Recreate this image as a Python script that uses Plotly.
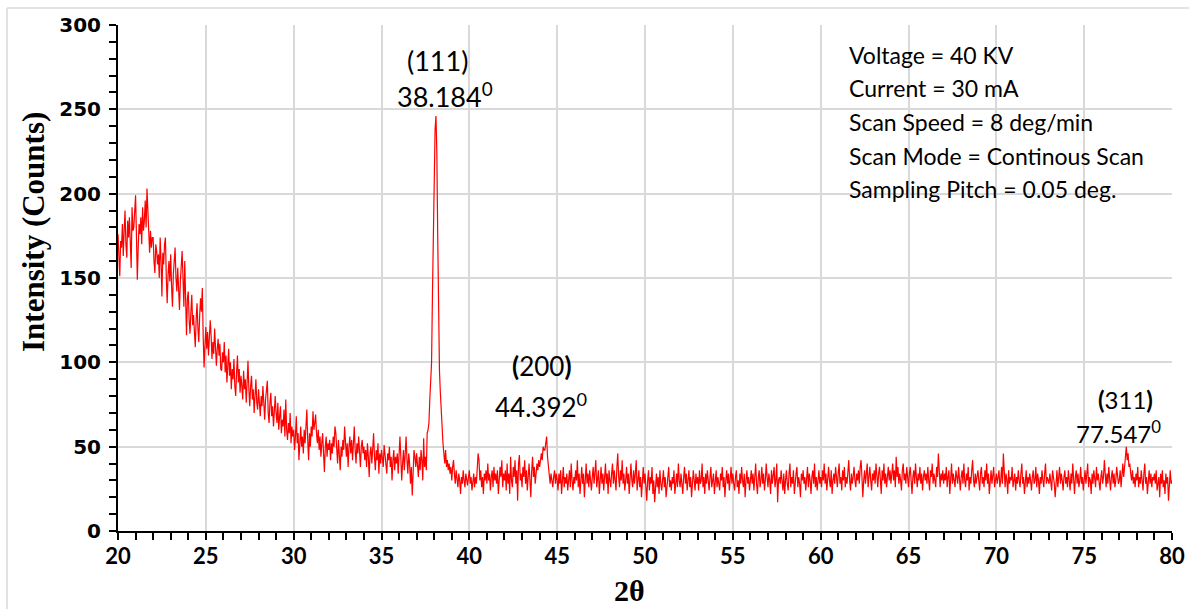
import plotly.graph_objects as go

# ---------------- data (2theta sampled every 0.05 deg) ----------------
seg_20 = [
    176,160,151,172,168,182,163,178,190,170,162,184,174,186,168,156,192,178,180,188,
    199,175,149,168,182,176,186,170,192,178,184,196,180,203,186,172,165,178,168,174,
    174,160,153,170,166,158,164,150,174,160,139,165,158,170,174,150,135,152,160,148,
    164,145,133,152,160,168,150,142,156,140,131,148,158,166,150,133,160,128,116,138,
    142,125,117,130,140,122,128,118,109,126,135,120,112,128,138,130,144,115,97,110,
    121,108,118,104,114,125,116,102,112,105,120,110,98,108,114,104,111,96,95,106,
    100,112,94,104,88,98,108,92,100,84,96,90,102,86,80,94,104,88,96,82,
    92,86,78,95,84,90,76,88,101,84,74,86,92,78,84,70,82,90,76,72,
    84,76,68,80,74,86,72,66,78,84,89,70,64,76,82,68,74,62,72,80,
    70,64,76,60,68,74,58,66,62,72,56,78,60,54,64,58,70,52,62,56,
]
seg_30 = [
    60,48,56,68,52,58,42,54,62,50,56,46,60,52,64,72,54,42,58,50,
    62,56,71,60,64,69,58,52,60,48,56,44,52,58,46,35,50,56,44,52,
    48,54,42,52,46,56,50,62,58,48,40,54,46,36,50,44,54,48,62,50,
    44,52,38,50,56,46,54,42,50,62,48,40,52,46,56,44,38,50,54,46,
    50,42,48,38,52,44,32,46,50,40,48,58,44,36,48,42,52,34,46,40,
    48,44,38,51,46,40,34,46,42,50,38,44,30,42,48,36,44,40,46,34,
    42,56,44,30,40,48,36,44,56,42,34,46,40,28,38,21,36,48,44,38,
    46,40,32,44,36,48,42,30,55,38,44,36,58,60,64,78,88,100,140,185,
    218,238,246,225,175,125,95,82,70,62,52,46,40,48,38,42,36,40,34,38,
    30,38,42,34,28,36,32,26,34,30,22,32,28,36,30,26,34,28,27,32,
]
seg_40 = [
    36,28,32,24,30,34,26,32,28,38,46,42,30,36,26,32,22,34,30,36,
    28,40,30,34,24,32,36,26,38,30,34,28,36,22,30,38,32,42,26,34,
    30,36,24,40,28,34,22,44,30,26,38,32,42,28,36,18,40,45,30,34,
    26,38,32,42,28,36,24,34,40,30,20,36,44,32,38,28,34,40,36,42,
    38,44,46,42,50,48,48,52,56,44,38,36,28,34,30,26,32,36,28,34,
    30,24,34,28,36,22,30,38,26,32,28,34,24,30,36,26,40,30,24,32,
    28,36,30,42,26,34,22,30,38,28,34,20,32,40,28,34,26,36,30,24,
    32,38,28,34,42,26,30,36,22,32,38,28,34,24,30,40,28,34,22,36,
    30,26,34,40,28,36,30,24,38,46,32,26,36,30,42,28,34,24,30,38,
    28,34,22,32,40,30,26,36,28,34,42,24,30,36,26,32,20,30,38,28,
]
seg_50 = [
    34,26,18,30,36,24,32,28,38,22,30,17,28,34,26,32,22,36,28,24,
    30,36,26,32,20,28,34,38,26,30,24,32,28,36,22,30,34,26,40,30,
    26,34,28,22,32,38,28,34,24,30,36,26,32,20,28,36,30,24,34,28,
    32,24,36,28,30,40,26,32,22,34,28,36,30,24,32,38,26,30,34,22,
    30,36,26,32,28,24,34,30,38,26,32,20,30,36,28,34,24,30,38,28,
    34,28,24,32,36,26,30,22,34,28,38,30,26,34,20,30,36,28,32,24,
    30,36,28,34,24,32,40,28,22,32,36,26,30,38,28,34,24,30,40,32,
    26,34,30,22,36,28,32,38,26,30,40,17,30,32,28,36,30,24,34,22,
    30,36,28,24,34,40,26,32,28,36,22,30,34,38,26,32,28,20,34,30,
    36,28,32,24,30,38,26,34,30,22,32,36,28,40,26,32,24,30,36,28,
]
seg_60 = [
    32,26,36,30,40,28,34,24,32,38,30,26,36,22,30,34,28,38,32,26,
    34,40,28,32,24,36,30,38,26,32,28,36,42,30,24,34,28,32,38,30,
    26,34,30,36,28,38,42,32,20,30,36,28,34,40,26,32,38,30,24,34,
    30,36,28,40,32,26,34,38,30,22,36,30,40,28,34,26,32,38,30,36,
    28,34,40,30,36,26,44,32,38,28,34,30,24,36,40,30,34,28,38,32,
    26,34,38,30,22,32,36,28,40,32,26,34,30,38,28,34,24,32,36,30,
    34,28,38,30,24,36,32,40,28,34,30,26,38,32,46,30,26,34,30,36,
    28,34,30,38,26,32,36,22,30,40,28,34,30,26,36,32,28,38,30,24,
    32,36,28,40,30,26,34,30,38,24,32,28,36,42,30,26,34,28,32,36,
    30,24,34,38,28,32,26,36,30,40,28,34,22,30,36,28,32,38,26,30,
]
seg_70 = [
    34,28,32,36,26,30,38,28,46,32,26,34,30,22,36,28,32,30,38,26,
    30,34,24,32,28,36,30,26,34,40,28,32,22,30,36,26,32,28,34,30,
    24,32,36,28,30,38,26,34,30,22,32,28,36,30,26,34,40,28,32,30,
    28,34,30,24,36,32,28,20,30,36,26,32,38,28,34,30,24,32,36,28,
    32,26,36,30,24,34,28,40,30,22,32,36,28,34,26,30,38,28,32,24,
    30,36,28,34,40,26,32,30,22,34,28,36,30,26,38,30,34,28,24,32,
    36,28,32,42,30,26,34,28,38,30,24,32,36,28,34,26,30,38,32,28,
    30,36,26,34,40,32,38,44,50,42,46,38,40,34,30,36,28,32,26,34,
    30,38,26,32,28,36,30,24,34,40,28,32,22,30,36,28,34,26,32,30,
    34,28,36,24,30,32,20,34,28,36,26,30,22,34,28,32,18,30,36,28,
]
last_value = 30
step = 0.05

peak_hkl = ["(111)", "(200)", "(311)"]
peak_angle = ["38.184", "44.392", "77.547"]
info_lines = [
    "Voltage = 40 KV",
    "Current = 30 mA",
    "Scan Speed = 8 deg/min",
    "Scan Mode = Continous Scan",
    "Sampling Pitch = 0.05 deg.",
]

# ---------------- assemble ----------------
two_theta, counts = [], []
for start, seg in [(20, seg_20), (30, seg_30), (40, seg_40), (50, seg_50), (60, seg_60), (70, seg_70)]:
    for i, v in enumerate(seg):
        two_theta.append(round(start + step * i, 2))
        counts.append(v)
two_theta.append(80.0)
counts.append(last_value)

# plot-area geometry (pixels)
W, H = 1189, 609
L, R, T, B = 118, 1172, 25, 531


def px(xp):
    return (xp - L) / (R - L)


def py(yp):
    return (B - yp) / (B - T)


fig = go.Figure()
fig.add_trace(go.Scatter(x=two_theta, y=counts, mode="lines",
                         line=dict(color="#ff0000", width=1.2),
                         hoverinfo="x+y", showlegend=False))

txt_family = "Lato, Calibri, Carlito, sans-serif"
ann = []
# peak labels (pixel positions of text centres)
hkl_pos = [(437, 60), (542, 366), (1125, 400)]
ang_pos = [(445, 95), (541, 405), (1118, 432)]
sizes = [27, 26, 24]
for k in range(3):
    h = peak_hkl[k]
    if k > 0:
        h = "<b>(</b>" + h[1:-1] + "<b>)</b>"
    f = dict(family=txt_family, size=sizes[k], color="black")
    ann.append(dict(xref="paper", yref="paper", x=px(hkl_pos[k][0]), y=py(hkl_pos[k][1]),
                    text=h, showarrow=False, xanchor="center", yanchor="middle", font=f))
    ann.append(dict(xref="paper", yref="paper", x=px(ang_pos[k][0]), y=py(ang_pos[k][1]),
                    text=peak_angle[k] + "<sup>0</sup>", showarrow=False,
                    xanchor="center", yanchor="middle", font=f))

info_y = [55, 88, 122, 156, 189]
for s, yy in zip(info_lines, info_y):
    ann.append(dict(xref="paper", yref="paper", x=px(847), y=py(yy), text=s, showarrow=False,
                    xanchor="left", yanchor="middle",
                    font=dict(family=txt_family, size=23, color="black")))

# axis titles
ann.append(dict(xref="paper", yref="paper", x=px(34), y=py(232), text="<b>Intensity (Counts)</b>",
                textangle=-90, showarrow=False, xanchor="center", yanchor="middle",
                font=dict(family="Liberation Serif, Times New Roman, serif", size=31, color="black")))
ann.append(dict(xref="paper", yref="paper", x=px(629), y=py(590), text="<b>2θ</b>",
                showarrow=False, xanchor="center", yanchor="middle",
                font=dict(family="Liberation Serif, Times New Roman, serif", size=30, color="black")))

shapes = [
    dict(type="line", xref="paper", yref="paper", x0=px(7), x1=px(7), y0=py(609), y1=py(8),
         line=dict(color="#d9d9d9", width=1.5)),
    dict(type="line", xref="paper", yref="paper", x0=px(7), x1=px(1189), y0=py(8), y1=py(8),
         line=dict(color="#d9d9d9", width=1.5)),
]

fig.update_layout(
    width=W, height=H,
    margin=dict(l=L, r=W - R, t=T, b=H - B),
    paper_bgcolor="white", plot_bgcolor="white",
    annotations=ann, shapes=shapes,
    xaxis=dict(range=[20, 80], dtick=5, tick0=20, showgrid=True, gridcolor="#d9d9d9", gridwidth=2,
               showline=True, linecolor="black", linewidth=2, ticks="outside", ticklen=7,
               tickwidth=2, tickcolor="black", zeroline=False, automargin=False,
               ticklabelstandoff=-2,
               minor=dict(dtick=1, ticks="outside", ticklen=7, tickwidth=1.5, tickcolor="black", showgrid=False),
               tickfont=dict(family="Lato, Calibri, sans-serif", size=22, color="black", weight="bold")),
    yaxis=dict(range=[0, 300], dtick=50, tick0=0, showgrid=True, gridcolor="#d9d9d9", gridwidth=2,
               showline=True, linecolor="black", linewidth=2, ticks="outside", ticklen=7,
               tickwidth=2, tickcolor="black", zeroline=False, automargin=False,
               ticklabelstandoff=4,
               minor=dict(dtick=10, ticks="outside", ticklen=7, tickwidth=1.5, tickcolor="black", showgrid=False),
               tickfont=dict(family="DejaVu Sans, Verdana, sans-serif", size=20, color="black", weight="bold")),
)

fig.write_html("out.html")
